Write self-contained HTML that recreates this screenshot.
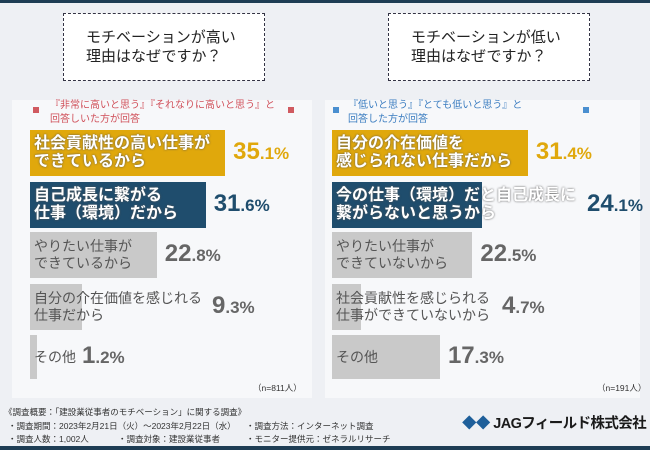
<!DOCTYPE html>
<html><head><meta charset="utf-8"><style>
*{margin:0;padding:0;box-sizing:border-box}
body{width:650px;height:450px;overflow:hidden;background:#eef0f4;font-family:"Liberation Sans","Noto Sans CJK JP",sans-serif;position:relative}
.abs{position:absolute}
.panel{position:absolute;background:#f7f8fa}
.qbox{position:absolute;border:1px dashed #334;background:#fff;font-size:15px;color:#222;line-height:19px;padding:14px 0 0 22px}
.note{position:absolute;font-size:10px;color:#d0505a;line-height:14px}
.sq{position:absolute;width:6px;height:6px;background:#d05a60}
.bar{position:absolute}
.lbl{position:absolute;font-size:14px;line-height:17px;white-space:nowrap}
.lbl.c{color:#fff;font-weight:bold;font-size:16px;line-height:18px;text-shadow:0 0 2px #555}
.lbl.g{color:#555}
.pct{position:absolute;font-weight:bold;font-size:24px;white-space:nowrap}
.pct small{font-size:17px}
.foot{font-size:8.5px;color:#333;position:absolute;white-space:nowrap}
</style></head><body>
<div class="abs" style="left:0;top:0;width:650px;height:3px;background:#1e3d54"></div>
<div class="abs" style="left:0;top:446px;width:650px;height:4px;background:#1e3d54"></div>
<div class="panel" style="left:12px;top:100px;width:300px;height:298px"></div>
<div class="panel" style="left:325px;top:100px;width:315px;height:298px"></div>
<div class="qbox" style="left:63px;top:13px;width:202px;height:68px">モチベーションが高い<br>理由はなぜですか？</div>
<div class="qbox" style="left:388px;top:13px;width:202px;height:68px">モチベーションが低い<br>理由はなぜですか？</div>
<div class="sq" style="left:33px;top:107px"></div>
<div class="sq" style="left:288px;top:107px"></div>
<div class="note" style="left:50px;top:99px">『非常に高いと思う』『それなりに高いと思う』と<br>回答しいた方が回答</div>
<div class="sq" style="left:333px;top:107px;background:#4a8fd0"></div>
<div class="sq" style="left:583px;top:107px;background:#4a8fd0"></div>
<div class="note" style="left:348px;top:99px;color:#3a7cc0">『低いと思う』『とても低いと思う』と<br>回答した方が回答</div>
<div id="chart"></div>
<div class="foot" style="left:253px;top:382px">（n=811人）</div>
<div class="foot" style="left:597px;top:382px">（n=191人）</div>
<div class="foot" style="left:4px;top:406px">《調査概要：「建設業従事者のモチベーション」に関する調査》</div>
<div class="foot" style="left:8px;top:420px">・調査期間：2023年2月21日（火）～2023年2月22日（水）</div>
<div class="foot" style="left:8px;top:433px">・調査人数：1,002人</div>
<div class="foot" style="left:118px;top:433px">・調査対象：建設業従事者</div>
<div class="foot" style="left:246px;top:420px">・調査方法：インターネット調査</div>
<div class="foot" style="left:246px;top:433px">・モニター提供元：ゼネラルリサーチ</div>
<div class="abs" style="left:462px;top:412px;font-size:14.5px;font-weight:bold;color:#1a1a1a;white-space:nowrap;letter-spacing:-0.6px"><span style="color:#1e5f9a">◆◆</span> JAGフィールド株式会社</div>
<script>
const leftCats=["社会貢献性の高い仕事が\nできているから","自己成長に繋がる\n仕事（環境）だから","やりたい仕事が\nできているから","自分の介在価値を感じれる\n仕事だから","その他"];
const leftVals=[35.1,31.6,22.8,9.3,1.2];
const rightCats=["自分の介在価値を\n感じられない仕事だから","今の仕事（環境）だと自己成長に\n繋がらないと思うから","やりたい仕事が\nできていないから","社会貢献性を感じられる\n仕事ができていないから","その他"];
const rightVals=[31.4,24.1,22.5,4.7,17.3];
const colors=["#e0a80c","#1f4d6d","#c9c9c9","#c9c9c9","#c9c9c9"];
const pctColors=["#e0a80c","#1f4d6d","#666","#666","#666"];
const rowTop=[130,182,232,284,335],rowH=[46,46,46,46,44];
const chart=document.getElementById('chart');
function draw(cats,vals,x0,scale,side){
  vals.forEach((v,i)=>{
    const w=v*scale;
    const b=document.createElement('div');b.className='bar';
    
    
    b.style.cssText=`left:${x0}px;top:${rowTop[i]}px;width:${w}px;height:${rowH[i]}px;background:${colors[i]}`;
    chart.appendChild(b);
    const l=document.createElement('div');l.className='lbl '+(i<2?'c':'g');
    
    
    const lines=cats[i].split('\n');
    l.innerHTML=lines.join('<br>');
    const lh=i<2?18:17;
    l.style.left=(x0+4)+'px';l.style.top=(rowTop[i]+rowH[i]/2-lines.length*lh/2)+'px';
    chart.appendChild(l);
    const p=document.createElement('div');p.className='pct';
    
    
    const s=v.toFixed(1);const k=s.indexOf('.');
    p.innerHTML=s.slice(0,k)+'<small>'+s.slice(k)+'%</small>';
    p.style.color=pctColors[i];
    let px=x0+w+8;
    if(side==='left'&&i===3)px=x0+182;
    if(side==='left'&&i===4)px=x0+52;
    if(side==='right'&&i===1)px=x0+255;
    if(side==='right'&&i===3)px=x0+170;
    p.style.left=px+'px';p.style.top=(rowTop[i]+rowH[i]/2-15)+'px';
    chart.appendChild(p);
  });
}
draw(leftCats,leftVals,30,5.56,'left');
draw(rightCats,rightVals,332,6.24,'right');
</script>
</body></html>
